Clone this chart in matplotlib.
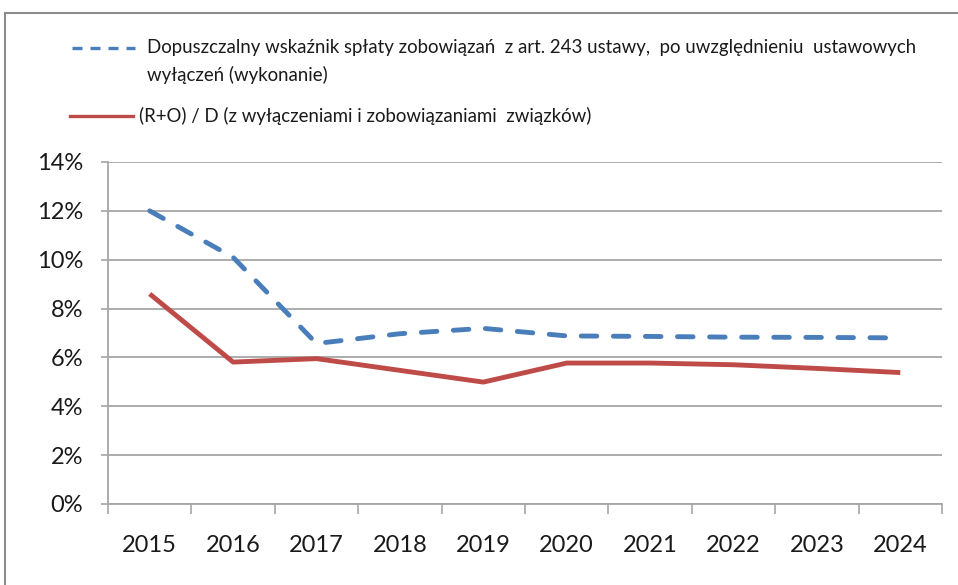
import matplotlib.pyplot as plt
from matplotlib.lines import Line2D
from matplotlib.patches import Rectangle
from matplotlib.ticker import FuncFormatter, FixedLocator

plt.rcParams['font.family'] = ['Lato', 'DejaVu Sans']

years = ["2015", "2016", "2017", "2018", "2019", "2020", "2021", "2022", "2023", "2024"]
dopuszczalny = [12.0, 10.1, 6.57, 6.97, 7.19, 6.88, 6.86, 6.83, 6.82, 6.8]
r_o_d = [8.6, 5.81, 5.95, 5.47, 4.99, 5.77, 5.77, 5.7, 5.55, 5.38]

label_blue = ("Dopuszczalny wskaźnik spłaty zobowiązań  z art. 243 ustawy,  po uwzględnieniu  ustawowych\n"
              "wyłączeń (wykonanie)")
label_red = "(R+O) / D (z wyłączeniami i zobowiązaniami  związków)"

blue = "#4a7ebb"
red = "#be4b48"
grid = "#a6a6a6"
txt = "#1a1a1a"

fig = plt.figure(figsize=(9.58, 5.85), dpi=100)
W, H = 958, 585

# outer frame (cut off on the right and bottom like the screenshot)
fig.patches.append(Rectangle((5 / W, -0.1), 1.2, (585 - 13) / H + 0.1,
                             transform=fig.transFigure, fill=False,
                             edgecolor="#8c8c8c", linewidth=1.5))

ax = fig.add_axes([108 / W, 81 / H, (942 - 108) / W, (504 - 162) / H])
x = list(range(len(years)))
ax.plot(x, dopuszczalny, color=blue, linewidth=3.5, dashes=(3.2, 3.4),
        dash_capstyle="round")
ax.plot(x, r_o_d, color=red, linewidth=3.5, solid_capstyle="butt")

ax.set_xlim(-0.5, len(years) - 0.5)
ax.set_ylim(0, 14)
ax.set_yticks(range(0, 15, 2))
ax.yaxis.set_major_formatter(FuncFormatter(lambda v, p: f"{v:.0f}%"))
ax.set_xticks(x)
ax.set_xticklabels(years)
ax.xaxis.set_minor_locator(FixedLocator([i - 0.5 for i in range(len(years) + 1)]))
ax.tick_params(axis="x", which="major", length=0, pad=22, labelsize=17, labelcolor=txt)
ax.tick_params(axis="x", which="minor", length=7, color=grid, width=1.2)
ax.tick_params(axis="y", length=5, color=grid, width=1.2, labelsize=17, pad=13, labelcolor=txt)
ax.grid(axis="y", color=grid, linewidth=1.3)
ax.set_axisbelow(True)
for s in ["top", "right"]:
    ax.spines[s].set_visible(False)
for s in ["left", "bottom"]:
    ax.spines[s].set_color(grid)
    ax.spines[s].set_linewidth(1.3)

# legend drawn by hand
fig.lines.append(Line2D([72 / W, 135 / W], [1 - 48 / H, 1 - 48 / H], transform=fig.transFigure,
                        color=blue, linewidth=2.4, dashes=(3.0, 2.4)))
fig.text(147 / W, 1 - 48 / H, label_blue.split("\n")[0], fontsize=13.4, va="center", color=txt)
fig.text(147 / W, 1 - 75 / H, label_blue.split("\n")[1], fontsize=13.4, va="center", color=txt)
fig.lines.append(Line2D([70 / W, 133 / W], [1 - 116 / H, 1 - 116 / H], transform=fig.transFigure,
                        color=red, linewidth=2.4))
fig.text(139 / W, 1 - 116 / H, label_red, fontsize=13.4, va="center", color=txt)

fig.savefig("out.png", dpi=100)
